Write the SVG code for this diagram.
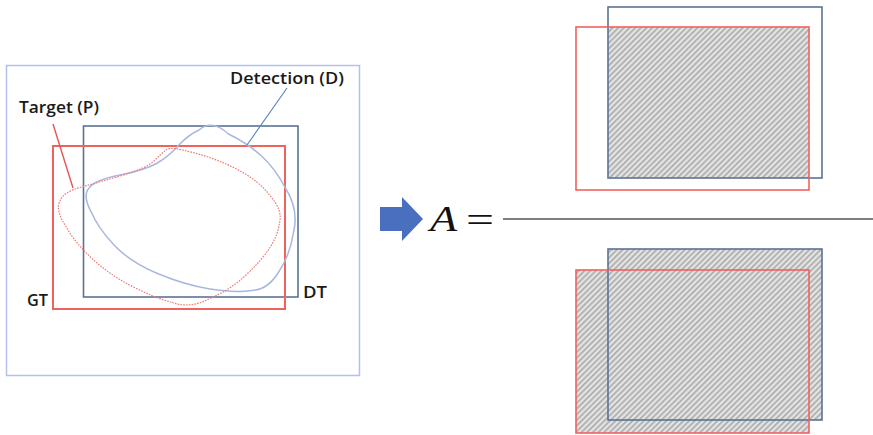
<svg xmlns="http://www.w3.org/2000/svg" width="873" height="435" viewBox="0 0 873 435">
  <defs>
    <pattern id="hatch" width="4" height="4" patternUnits="userSpaceOnUse" patternTransform="rotate(45)">
      <rect width="4" height="4" fill="#e4e4e4"/>
      <rect x="0" y="0" width="1.6" height="4" fill="#a9a9a9"/>
    </pattern>
  </defs>
  <style>
    .lbl { font-family: "Open Sans", "DejaVu Sans", sans-serif; font-size: 17px; font-weight: 600; fill: #1a1a1a; }
    .gt { fill: none; stroke: #f0625e; stroke-width: 2; }
    .dt { fill: none; stroke: #5a7395; stroke-width: 1.6; }
    .math { font-family: "Liberation Serif", "DejaVu Serif", serif; font-size: 36px; fill: #111; }
  </style>
  <rect width="873" height="435" fill="#ffffff"/>

  <!-- frame around the image region -->
  <g id="frame">
    <rect x="6.5" y="65.5" width="353" height="310" fill="none" stroke="#b3c1ea" stroke-width="1.5"/>
  </g>

  <!-- bounding boxes -->
  <g id="dt-box">
    <rect class="dt" x="83.5" y="126" width="214.5" height="171"/>
    <text class="lbl" x="303" y="298" textLength="24" lengthAdjust="spacingAndGlyphs">DT</text>
  </g>
  <g id="gt-box">
    <rect class="gt" x="53" y="146" width="232" height="163"/>
    <text class="lbl" x="27" y="306" textLength="21" lengthAdjust="spacingAndGlyphs">GT</text>
  </g>

  <!-- segmentation outlines -->
  <g id="detection">
    <path fill="none" stroke="#a8b7de" stroke-width="1.5" d="M 199 130 Q 212 119 228.5 134 Q 247 143 261 155.5 Q 275 168 286 189 Q 299 210 293.5 232.5 Q 290 255 279 271.5 Q 268 290 251.5 290.5 Q 235 293 210 289 Q 185 285 157.5 273.5 Q 130 262 114 245 Q 98 228 91 211.5 Q 82 195 89.5 187.5 Q 95 180 120 175 Q 145 170 156.5 163.5 Q 168 157 178 146 Q 188 135 199 130 Z"/>
    <text class="lbl" x="230" y="84" textLength="114" lengthAdjust="spacingAndGlyphs">Detection (D)</text>
  </g>
  <g id="target">
    <path fill="none" stroke="#f07a78" stroke-width="1.2" stroke-dasharray="1.6 1.2" d="M 166 150 Q 170 146 192.5 152.5 Q 215 158 236.5 169 Q 258 180 269.5 195 Q 283 210 279.5 222.5 Q 278 235 270 247.5 Q 262 260 246 275 Q 230 290 210 298.5 Q 190 309 172.5 302.5 Q 155 298 132.5 286.5 Q 110 275 92.5 259 Q 75 243 66 226.5 Q 55 210 60 201 Q 63 192 81.5 187 Q 100 182 123.5 175 Q 147 168 154.5 160.5 Q 162 153 166 150 Z"/>
    <text class="lbl" x="19" y="113" textLength="80" lengthAdjust="spacingAndGlyphs">Target (P)</text>
  </g>

  <!-- leader lines from labels to outlines -->
  <g id="connectors">
    <line x1="287" y1="88" x2="247" y2="145" stroke="#5a86c0" stroke-width="1.2"/>
    <line x1="53" y1="124" x2="73" y2="188" stroke="#e85555" stroke-width="1.4"/>
  </g>

  <!-- block arrow -->
  <g id="arrow">
    <polygon points="380,207 402,207 402,197 423,219 402,241 402,231 380,231" fill="#4a6fbf"/>
  </g>

  <!-- A = intersection / union -->
  <g id="formula">
    <text class="math" x="430" y="231" font-style="italic" textLength="27" lengthAdjust="spacingAndGlyphs">A</text>
    <text class="math" x="466" y="232" textLength="28" lengthAdjust="spacingAndGlyphs">=</text>
    <line x1="503" y1="219" x2="873" y2="219" stroke="#555" stroke-width="1.4"/>
  </g>

  <!-- numerator: overlap region -->
  <g id="intersection">
    <rect x="608" y="27" width="201" height="151" fill="url(#hatch)"/>
    <rect x="608" y="7" width="214" height="171" fill="none" stroke="#5a7395" stroke-width="1.6"/>
    <rect x="576" y="27" width="233" height="163" fill="none" stroke="#f0625e" stroke-width="1.6"/>
  </g>

  <!-- denominator: combined region -->
  <g id="union">
    <rect x="608" y="249" width="214" height="171" fill="url(#hatch)"/>
    <rect x="576" y="270" width="233" height="163" fill="url(#hatch)"/>
    <rect x="608" y="249" width="214" height="171" fill="none" stroke="#5a7395" stroke-width="1.6"/>
    <rect x="576" y="270" width="233" height="163" fill="none" stroke="#f0625e" stroke-width="1.6"/>
  </g>
</svg>
